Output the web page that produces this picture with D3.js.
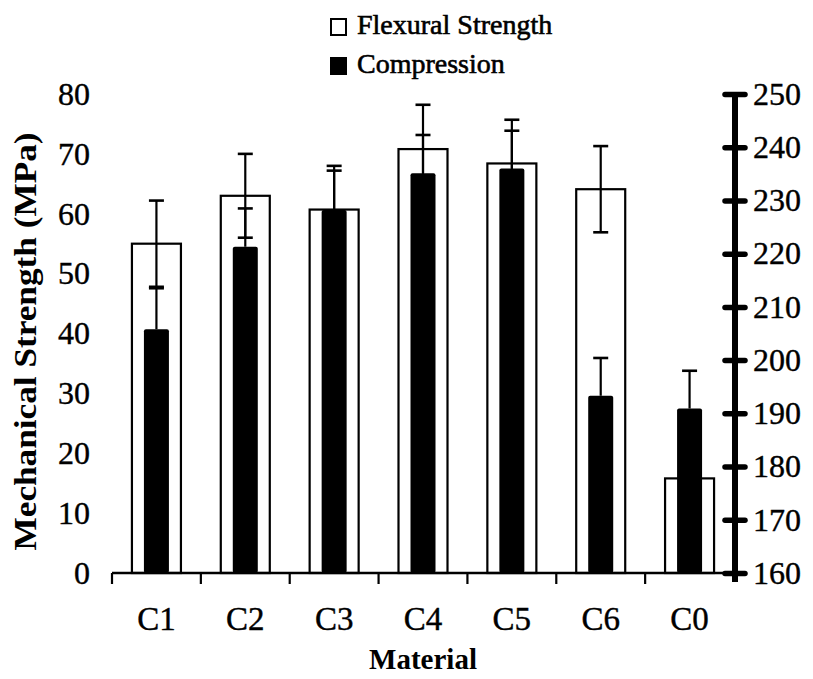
<!DOCTYPE html>
<html>
<head>
<meta charset="utf-8">
<script src="https://cdn.jsdelivr.net/npm/d3@7/dist/d3.min.js"></script>
<style>
  html, body { margin: 0; padding: 0; background: #fff; }
  svg { display: block; }
</style>
</head>
<body>
<svg id="chart" width="813" height="679" font-family="Liberation Serif, Times New Roman, serif"></svg>
<script>
// ---- data ----
const categories = ["C1", "C2", "C3", "C4", "C5", "C6", "C0"];
const flexural = [55.0, 63.0, 60.7, 70.8, 68.4, 64.1, 15.8];        // MPa, left axis
const flexuralErr = [7.2, 7.0, 7.3, 7.4, 7.3, 7.2, 7.2];
const compression = [205.8, 221.3, 228.2, 235.1, 236.0, 193.3, 190.9]; // MPa, right axis
const compressionErr = [7.7, 7.2, 7.4, 7.2, 7.1, 7.1, 7.1];
const leftTicks = [0, 10, 20, 30, 40, 50, 60, 70, 80];
const rightTicks = [160, 170, 180, 190, 200, 210, 220, 230, 240, 250];
const legendLabels = ["Flexural Strength", "Compression"];
const yTitle = "Mechanical Strength (MPa)";
const xTitle = "Material";

// ---- layout ----
const FONT = "Liberation Serif, Times New Roman, serif";
const svg = d3.select("#chart");
const plotLeft = 112, plotRight = 734, plotTop = 94, plotBottom = 573;
const axisRightX = 735;

const x = d3.scaleBand().domain(categories).range([plotLeft, plotRight]).padding(0);
const yL = d3.scaleLinear().domain([0, 80]).range([plotBottom, plotTop]);
const yR = d3.scaleLinear().domain([160, 250]).range([plotBottom, plotTop]);

const whiteW = 49, blackW = 25, capW = 15;
const rows = categories.map((c, i) => ({
  c, f: flexural[i], fe: flexuralErr[i], p: compression[i], pe: compressionErr[i]
}));
const cx = d => x(d.c) + x.bandwidth() / 2;

// white (flexural) bars
svg.append("g").selectAll("rect").data(rows).join("rect")
  .attr("x", d => cx(d) - whiteW / 2)
  .attr("y", d => yL(d.f))
  .attr("width", whiteW)
  .attr("height", d => yL(0) - yL(d.f))
  .attr("fill", "#fff").attr("stroke", "#000").attr("stroke-width", 2.2);

// flexural error bars
const fe = svg.append("g").attr("stroke", "#000");
rows.forEach(d => {
  const x0 = cx(d);
  fe.append("line").attr("x1", x0).attr("x2", x0)
    .attr("y1", yL(d.f - d.fe)).attr("y2", yL(d.f + d.fe)).attr("stroke-width", 2.2);
  [d.f - d.fe, d.f + d.fe].forEach(v => {
    fe.append("line").attr("x1", x0 - capW / 2).attr("x2", x0 + capW / 2)
      .attr("y1", yL(v)).attr("y2", yL(v)).attr("stroke-width", 2.6);
  });
});

// black (compression) bars
svg.append("g").selectAll("rect").data(rows).join("rect")
  .attr("x", d => cx(d) - blackW / 2)
  .attr("y", d => yR(d.p))
  .attr("width", blackW)
  .attr("height", d => yR(160) - yR(d.p))
  .attr("rx", 2)
  .attr("fill", "#000");

// compression error bars
const pe = svg.append("g").attr("stroke", "#000");
rows.forEach(d => {
  const x0 = cx(d);
  pe.append("line").attr("x1", x0).attr("x2", x0)
    .attr("y1", yR(d.p)).attr("y2", yR(d.p + d.pe)).attr("stroke-width", 2.2);
  pe.append("line").attr("x1", x0 - capW / 2).attr("x2", x0 + capW / 2)
    .attr("y1", yR(d.p + d.pe)).attr("y2", yR(d.p + d.pe)).attr("stroke-width", 2.6);
});

// x axis
const xAxis = svg.append("g").attr("transform", `translate(0,${plotBottom})`)
  .call(d3.axisBottom(x).tickSize(0).tickPadding(45));
xAxis.select(".domain").remove();
xAxis.selectAll("text").attr("font-size", 33).attr("font-family", FONT).attr("fill", "#000")
  .attr("stroke", "#000").attr("stroke-width", 0.4).attr("dy", "0.35em");
svg.append("line").attr("x1", plotLeft).attr("x2", axisRightX).attr("y1", plotBottom).attr("y2", plotBottom)
  .attr("stroke", "#000").attr("stroke-width", 2.5);
svg.append("g").selectAll("line").data(categories).join("line")
  .attr("x1", d => x(d)).attr("x2", d => x(d))
  .attr("y1", plotBottom).attr("y2", plotBottom + 11)
  .attr("stroke", "#000").attr("stroke-width", 2.2);

// left axis (labels only)
const lAxis = svg.append("g").attr("transform", `translate(${plotLeft},0)`)
  .call(d3.axisLeft(yL).tickValues(leftTicks).tickSize(0).tickPadding(22));
lAxis.select(".domain").remove();
lAxis.selectAll("text").attr("font-size", 32).attr("font-family", FONT).attr("fill", "#000")
  .attr("stroke", "#000").attr("stroke-width", 0.4);

// right axis (thick)
const rAxis = svg.append("g").attr("transform", `translate(${axisRightX},0)`)
  .call(d3.axisRight(yR).tickValues(rightTicks).tickSize(0).tickPadding(18));
rAxis.select(".domain").remove();
rAxis.selectAll("text").attr("font-size", 32).attr("font-family", FONT).attr("fill", "#000")
  .attr("stroke", "#000").attr("stroke-width", 0.4);
rAxis.append("line").attr("x1", 0).attr("x2", 0).attr("y1", plotTop - 2).attr("y2", plotBottom + 9)
  .attr("stroke", "#000").attr("stroke-width", 6);
rAxis.selectAll(".tick").append("line")
  .attr("x1", -10).attr("x2", 10).attr("y1", 0).attr("y2", 0)
  .attr("stroke", "#000").attr("stroke-width", 5.5).attr("stroke-linecap", "round");

// axis titles
svg.append("text")
  .attr("transform", `translate(36,${(plotTop + plotBottom) / 2 + 8}) rotate(-90)`)
  .attr("text-anchor", "middle")
  .attr("font-family", FONT)
  .attr("font-size", 32).attr("font-weight", "bold")
  .attr("textLength", 418).attr("lengthAdjust", "spacingAndGlyphs")
  .text(yTitle);
svg.append("text")
  .attr("x", (plotLeft + plotRight) / 2).attr("y", 669)
  .attr("text-anchor", "middle")
  .attr("font-family", FONT)
  .attr("font-size", 29).attr("font-weight", "bold")
  .text(xTitle);

// legend
const legend = svg.append("g");
legendLabels.forEach((t, i) => {
  const gy = 19 + i * 39;
  legend.append("rect").attr("x", 331).attr("y", gy).attr("width", 15).attr("height", 16)
    .attr("fill", i === 0 ? "#fff" : "#000").attr("stroke", "#000").attr("stroke-width", 2);
  legend.append("text").attr("x", 357).attr("y", gy + 15)
    .attr("font-family", FONT)
    .attr("stroke", "#000").attr("stroke-width", 0.6)
    .attr("font-size", 28).text(t);
});
</script>
</body>
</html>
